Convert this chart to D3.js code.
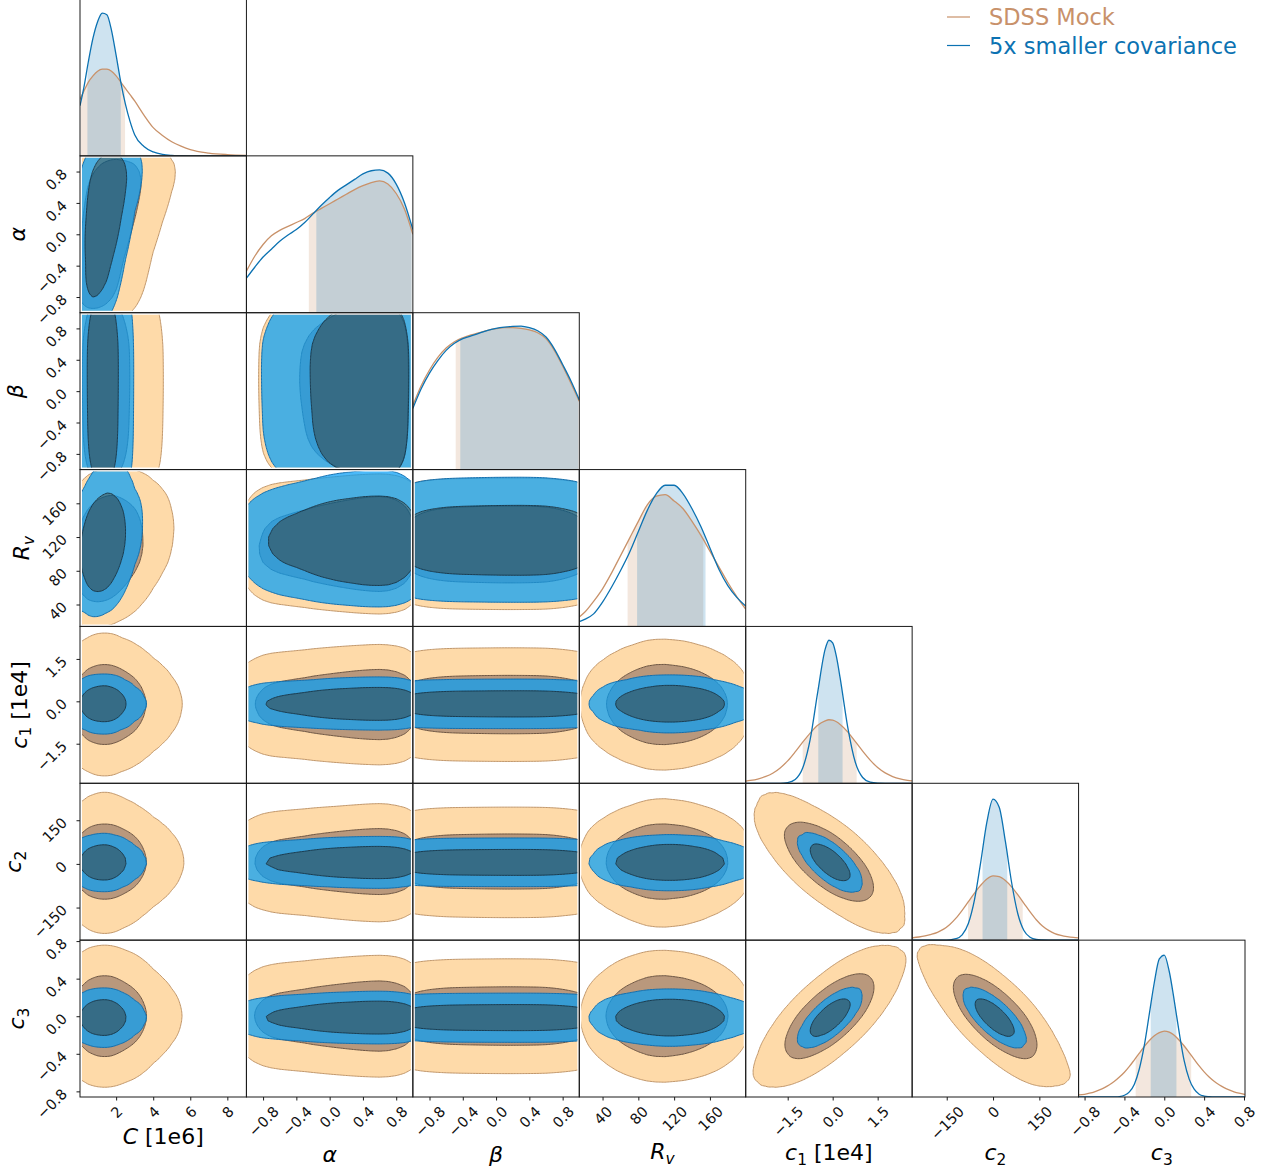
<!DOCTYPE html>
<html>
<head>
<meta charset="utf-8">
<script src="https://cdn.jsdelivr.net/npm/d3@7"></script>
<style>
  body { margin: 0; background: #fff; }
  svg { display: block; }
  text { font-family: "DejaVu Sans", sans-serif; }
</style>
</head>
<body>
<svg id="fig" width="1265" height="1176"></svg>
<script>
// ---------------------------------------------------------------------------
// Parameters of the triangle plot (order = rows / columns)
const paramKeys = ["C", "alpha", "beta", "Rv", "c1", "c2", "c3"];
const axisDomains = [[0.05, 9.03], [-1, 1], [-1, 1], [14, 200], [-2.9, 2.65], [-262, 277], [-0.86, 0.81]];
const tickValues = [
  [2, 4, 6, 8],
  [-0.8, -0.4, 0, 0.4, 0.8],
  [-0.8, -0.4, 0, 0.4, 0.8],
  [40, 80, 120, 160],
  [-1.5, 0, 1.5],
  [-150, 0, 150],
  [-0.8, -0.4, 0, 0.4, 0.8]
];
const tickLabels = [
  ["2", "4", "6", "8"],
  ["\u22120.8", "\u22120.4", "0.0", "0.4", "0.8"],
  ["\u22120.8", "\u22120.4", "0.0", "0.4", "0.8"],
  ["40", "80", "120", "160"],
  ["\u22121.5", "0.0", "1.5"],
  ["\u2212150", "0", "150"],
  ["\u22120.8", "\u22120.4", "0.0", "0.4", "0.8"]
];
// axis label pieces: [text, flags] (i = italic, s = subscript)
const axisLabelParts = [
  [["C", "i"], [" [1e6]", ""]],
  [["\u03b1", "i"]],
  [["\u03b2", "i"]],
  [["R", "i"], ["v", "is"]],
  [["c", "i"], ["1", "s"], [" [1e4]", ""]],
  [["c", "i"], ["2", "s"]],
  [["c", "i"], ["3", "s"]]
];
const seriesNames = ["SDSS Mock", "5x smaller covariance"];

// 1D marginal densities (relative height in the diagonal panels)
const gridC = [0.05, 0.25, 0.5, 0.75, 1, 1.25, 1.5, 1.75, 2, 2.25, 2.5, 2.75, 3, 3.5, 4, 4.5, 5, 5.5, 6, 7, 8, 9.03];
const sdssC = [0.36, 0.41, 0.47, 0.51, 0.54, 0.553, 0.553, 0.54, 0.51, 0.47, 0.43, 0.39, 0.35, 0.26, 0.18, 0.13, 0.09, 0.062, 0.04, 0.018, 0.008, 0.003];
const smallC = [0.32, 0.43, 0.6, 0.75, 0.855, 0.91, 0.9, 0.8, 0.64, 0.47, 0.33, 0.22, 0.135, 0.06, 0.025, 0.009, 0.003, 0.001, 0, 0, 0, 0];

const gridAlpha = [-1, -0.9, -0.8, -0.7, -0.6, -0.5, -0.4, -0.3, -0.2, -0.1, 0, 0.1, 0.2, 0.3, 0.4, 0.5, 0.6, 0.7, 0.8, 0.9, 1];
const sdssAlpha = [0.265, 0.36, 0.435, 0.49, 0.525, 0.55, 0.575, 0.6, 0.635, 0.665, 0.695, 0.725, 0.755, 0.785, 0.81, 0.83, 0.84, 0.82, 0.76, 0.66, 0.5];
const smallAlpha = [0.22, 0.29, 0.355, 0.405, 0.455, 0.495, 0.53, 0.575, 0.63, 0.685, 0.735, 0.78, 0.815, 0.85, 0.885, 0.905, 0.91, 0.89, 0.82, 0.7, 0.53];

const gridBeta = [-1, -0.9, -0.8, -0.7, -0.6, -0.5, -0.4, -0.3, -0.2, -0.1, 0, 0.1, 0.2, 0.3, 0.4, 0.5, 0.6, 0.7, 0.8, 0.9, 1];
const sdssBeta = [0.41, 0.535, 0.635, 0.715, 0.775, 0.815, 0.84, 0.858, 0.873, 0.888, 0.898, 0.905, 0.905, 0.9, 0.89, 0.872, 0.835, 0.76, 0.66, 0.55, 0.435];
const smallBeta = [0.39, 0.515, 0.615, 0.695, 0.76, 0.805, 0.835, 0.852, 0.87, 0.888, 0.9, 0.908, 0.913, 0.915, 0.905, 0.885, 0.845, 0.77, 0.67, 0.565, 0.445];

const gridRv = [14, 20, 30, 40, 50, 60, 70, 80, 90, 100, 110, 120, 130, 140, 150, 160, 170, 180, 190, 200];
const sdssRv = [0.06, 0.09, 0.16, 0.24, 0.34, 0.45, 0.56, 0.67, 0.775, 0.83, 0.84, 0.8, 0.75, 0.67, 0.58, 0.48, 0.38, 0.28, 0.19, 0.11];
const smallRv = [0.03, 0.045, 0.08, 0.155, 0.25, 0.355, 0.47, 0.605, 0.74, 0.845, 0.9, 0.9, 0.845, 0.75, 0.635, 0.5, 0.365, 0.26, 0.185, 0.13];

const gridC1 = [-2.9, -2.75, -2.5, -2.25, -2, -1.75, -1.5, -1.25, -1, -0.75, -0.5, -0.25, -0.125, 0, 0.125, 0.25, 0.5, 0.75, 1, 1.25, 1.5, 1.75, 2, 2.25, 2.5, 2.65];
const sdssC1 = [0.014, 0.018, 0.027, 0.042, 0.064, 0.098, 0.143, 0.2, 0.262, 0.32, 0.37, 0.398, 0.405, 0.402, 0.392, 0.375, 0.328, 0.267, 0.205, 0.148, 0.1, 0.066, 0.043, 0.028, 0.019, 0.015];
const smallC1 = [0, 0, 0, 0, 0, 0, 0.004, 0.024, 0.097, 0.28, 0.58, 0.855, 0.912, 0.895, 0.807, 0.67, 0.36, 0.137, 0.037, 0.007, 0.001, 0, 0, 0, 0, 0];

const gridC2 = [-262, -240, -220, -200, -180, -160, -140, -120, -100, -80, -60, -40, -20, 0, 20, 40, 60, 80, 100, 120, 140, 160, 180, 200, 220, 240, 260, 277];
const sdssC2 = [0.015, 0.02, 0.027, 0.037, 0.05, 0.07, 0.1, 0.14, 0.19, 0.245, 0.3, 0.35, 0.39, 0.41, 0.405, 0.38, 0.34, 0.29, 0.235, 0.18, 0.13, 0.09, 0.062, 0.042, 0.03, 0.022, 0.017, 0.015];
const smallC2 = [0, 0, 0, 0, 0, 0, 0.002, 0.009, 0.034, 0.106, 0.258, 0.496, 0.752, 0.899, 0.847, 0.629, 0.369, 0.17, 0.061, 0.018, 0.004, 0.001, 0, 0, 0, 0, 0, 0];

const gridC3 = [-0.86, -0.8, -0.75, -0.7, -0.65, -0.6, -0.55, -0.5, -0.45, -0.4, -0.35, -0.3, -0.25, -0.2, -0.15, -0.1, -0.05, 0, 0.05, 0.1, 0.15, 0.2, 0.25, 0.3, 0.35, 0.4, 0.45, 0.5, 0.55, 0.6, 0.65, 0.7, 0.75, 0.81];
const sdssC3 = [0.014, 0.017, 0.024, 0.033, 0.045, 0.06, 0.078, 0.1, 0.127, 0.158, 0.195, 0.237, 0.28, 0.322, 0.36, 0.39, 0.41, 0.42, 0.413, 0.393, 0.362, 0.325, 0.283, 0.24, 0.198, 0.16, 0.127, 0.1, 0.078, 0.06, 0.045, 0.033, 0.024, 0.016];
const smallC3 = [0, 0, 0, 0, 0, 0, 0, 0.001, 0.003, 0.011, 0.033, 0.082, 0.18, 0.33, 0.53, 0.73, 0.88, 0.905, 0.8, 0.615, 0.41, 0.23, 0.114, 0.05, 0.018, 0.006, 0.002, 0, 0, 0, 0, 0, 0, 0];

// 68% credible intervals shaded under each 1D curve
const sdssIntervals = [[0.1, 2.48], [-0.25, 0.985], [-0.485, 0.985], [68, 152.5], [-1.0, 0.8], [-81, 96], [-0.287, 0.27]];
const smallIntervals = [[0.45, 2.25], [-0.16, 0.985], [-0.43, 0.985], [78.6, 155.1], [-0.48, 0.33], [-34, 46], [-0.136, 0.122]];

// joint structure of the 2D posteriors: pair correlations and how strongly
// each 1D marginal shapes the joint density
const correlations = [["C", "alpha", 0.3], ["C", "Rv", 0.2], ["c1", "c2", -0.68], ["c1", "c3", 0.7], ["c2", "c3", -0.72]];
const sdssJointPower = [1.3, 1, 0.3, 1, 1, 1, 1];
const smallJointPower = [1, 1, 0.3, 1, 1, 1, 1];

// ---------------------------------------------------------------------------
const grids = [gridC, gridAlpha, gridBeta, gridRv, gridC1, gridC2, gridC3];
const densities = [
  [sdssC, sdssAlpha, sdssBeta, sdssRv, sdssC1, sdssC2, sdssC3],
  [smallC, smallAlpha, smallBeta, smallRv, smallC1, smallC2, smallC3]
];
const jointPowers = [sdssJointPower, smallJointPower];
const intervals = [sdssIntervals, smallIntervals];

const styles = [
  { line: "#c9926a", bandOpacity: 0.22, fill2: "#fedaa9", fill1: "#b9987c", fillOpacity: 1,
    stroke2: "#c0966a", stroke1: "#6e5540", text: "#c8916a" },
  { line: "#0c72b2", bandOpacity: 0.2, fill2: "rgb(4,158,247)", fill1: "rgb(3,91,138)", fillOpacity: 0.72,
    stroke2: "#136fae", stroke1: "#173c52", text: "#0c72b2" }
];

const svg = d3.select("#fig");
const defs = svg.append("defs");
const nP = paramKeys.length;
const plotLeft = 80, plotTop = -1, plotRight = 1245, plotBottom = 1097;
const cellW = (plotRight - plotLeft) / nP, cellH = (plotBottom - plotTop) / nP;

const xScales = paramKeys.map((k, p) => d3.scaleLinear().domain(axisDomains[p])
  .range([plotLeft + p * cellW, plotLeft + (p + 1) * cellW]));
const yScales = paramKeys.map((k, p) => d3.scaleLinear().domain(axisDomains[p])
  .range([plotTop + (p + 1) * cellH, plotTop + p * cellH]));

function interp(xs, ys, x) {
  const n = xs.length;
  if (x <= xs[0]) return ys[0];
  if (x >= xs[n - 1]) return ys[n - 1];
  const i = d3.bisectRight(xs, x) - 1;
  const t = (x - xs[i]) / (xs[i + 1] - xs[i]);
  return ys[i] + t * (ys[i + 1] - ys[i]);
}

// mean and standard deviation of each marginal
const moments = densities.map(set => set.map((dens, p) => {
  const [lo, hi] = axisDomains[p];
  let w = 0, m = 0, m2 = 0;
  for (let k = 0; k <= 600; k++) {
    const x = lo + (hi - lo) * k / 600;
    const d = interp(grids[p], dens, x);
    w += d; m += d * x; m2 += d * x * x;
  }
  m /= w;
  return { mean: m, sd: Math.sqrt(Math.max(m2 / w - m * m, 1e-12)) };
}));

function rhoFor(a, b) {
  const ka = paramKeys[a], kb = paramKeys[b];
  const hit = correlations.find(c => (c[0] === ka && c[1] === kb) || (c[0] === kb && c[1] === ka));
  return hit ? hit[2] : 0;
}

let clipCount = 0;
function clipRect(x0, y0, x1, y1) {
  const id = "clip" + (clipCount++);
  defs.append("clipPath").attr("id", id).append("rect")
    .attr("x", x0).attr("y", y0).attr("width", x1 - x0).attr("height", y1 - y0);
  return "url(#" + id + ")";
}

// ---------------------------------------------------------------------------
// 2D panels: filled 68% / 95% regions
const N = 110, M = N + 2;
function densityGrid(s, px, py) {
  const [xl, xh] = axisDomains[px], [yl, yh] = axisDomains[py];
  const rho = rhoFor(px, py);
  const mx = moments[s][px], my = moments[s][py];
  const kx = jointPowers[s][px], ky = jointPowers[s][py];
  const fx = [], fy = [], zx = [], zy = [];
  for (let i = 0; i < N; i++) {
    const xv = xl + i * (xh - xl) / (N - 1);
    const yv = yl + i * (yh - yl) / (N - 1);
    fx.push(Math.pow(interp(grids[px], densities[s][px], xv), kx));
    fy.push(Math.pow(interp(grids[py], densities[s][py], yv), ky));
    zx.push((xv - mx.mean) / mx.sd);
    zy.push((yv - my.mean) / my.sd);
  }
  const values = new Float64Array(M * M);
  for (let j = 0; j < N; j++) {
    for (let i = 0; i < N; i++) {
      let d = fx[i] * fy[j];
      if (rho !== 0) {
        const a = zx[i], b = zy[j];
        d *= Math.exp(-(rho * rho * (a * a + b * b) - 2 * rho * a * b) / (2 * (1 - rho * rho)));
      }
      values[(j + 1) * M + (i + 1)] = d;
    }
  }
  return values;
}

function massLevels(values) {
  const arr = Array.from(values).filter(v => v > 0).sort((a, b) => b - a);
  const total = d3.sum(arr);
  let cum = 0, t68 = null, t95 = null;
  for (const v of arr) {
    cum += v;
    if (t68 === null && cum >= 0.68 * total) t68 = v;
    if (cum >= 0.95 * total) { t95 = v; break; }
  }
  return [t95, t68];
}

const contourLayer = svg.append("g");
for (let r = 1; r < nP; r++) {
  for (let c = 0; c < r; c++) {
    const xs = xScales[c], ys = yScales[r];
    const [xl, xh] = axisDomains[c], [yl, yh] = axisDomains[r];
    const proj = d3.geoTransform({
      point(cx, cy) {
        this.stream.point(xs(xl + (cx - 1.5) * (xh - xl) / (N - 1)), ys(yl + (cy - 1.5) * (yh - yl) / (N - 1)));
      }
    });
    const path = d3.geoPath(proj);
    const inset = 2;
    const clip = clipRect(xs.range()[0] + inset, ys.range()[1] + inset, xs.range()[1] - inset, ys.range()[0] - inset);
    const g = contourLayer.append("g").attr("clip-path", clip);
    for (let s = 0; s < 2; s++) {
      const st = styles[s];
      const values = densityGrid(s, c, r);
      const lv = massLevels(values);
      const cont = d3.contours().size([M, M]).thresholds(lv)(values);
      const d95 = path(cont[0]) || "", d68 = path(cont[1]) || "";
      g.append("path").attr("d", d95 + d68).attr("fill-rule", "evenodd")
        .attr("fill", st.fill2).attr("fill-opacity", st.fillOpacity);
      g.append("path").attr("d", d68).attr("fill", st.fill1).attr("fill-opacity", st.fillOpacity);
      g.append("path").attr("d", d95).attr("fill", "none").attr("stroke", st.stroke2).attr("stroke-width", 1);
      g.append("path").attr("d", d68).attr("fill", "none").attr("stroke", st.stroke1).attr("stroke-width", 1);
    }
  }
}

// ---------------------------------------------------------------------------
// Diagonal panels: 1D marginals with shaded 68% intervals
const diagLayer = svg.append("g");
for (let p = 0; p < nP; p++) {
  const xs = xScales[p];
  const y0 = plotTop + (p + 1) * cellH, y1 = plotTop + p * cellH;
  const hs = d3.scaleLinear().domain([0, 1]).range([y0, y1]);
  const pts = s => grids[p].map((x, i) => [x, densities[s][p][i]]);
  const area = d3.area().x(d => xs(d[0])).y0(hs(0)).y1(d => hs(d[1])).curve(d3.curveMonotoneX);
  const line = d3.line().x(d => xs(d[0])).y(d => hs(d[1])).curve(d3.curveMonotoneX);
  for (let s = 0; s < 2; s++) {
    const [a, b] = intervals[s][p];
    const clip = clipRect(xs(a), y1, xs(b), y0);
    diagLayer.append("path").attr("d", area(pts(s))).attr("clip-path", clip)
      .attr("fill", styles[s].line).attr("fill-opacity", styles[s].bandOpacity);
  }
  const clipAll = clipRect(xs.range()[0], y1, xs.range()[1], y0);
  for (let s = 0; s < 2; s++) {
    diagLayer.append("path").attr("d", line(pts(s))).attr("clip-path", clipAll)
      .attr("fill", "none").attr("stroke", styles[s].line).attr("stroke-width", 1.3);
  }
}

// ---------------------------------------------------------------------------
// Panel frames
const frameLayer = svg.append("g");
for (let r = 0; r < nP; r++) {
  for (let c = 0; c <= r; c++) {
    frameLayer.append("rect")
      .attr("x", plotLeft + c * cellW).attr("y", plotTop + r * cellH)
      .attr("width", cellW).attr("height", cellH)
      .attr("fill", "none").attr("stroke", "#1a1a1a").attr("stroke-width", 1);
  }
}

// ---------------------------------------------------------------------------
// Axes
const tickFont = 14.5, capH = 0.73 * tickFont;
const axisLayer = svg.append("g");
for (let r = 1; r < nP; r++) {
  const ax = axisLayer.append("g").attr("transform", `translate(${plotLeft},0)`)
    .call(d3.axisLeft(yScales[r]).tickValues(tickValues[r])
      .tickFormat((d, i) => tickLabels[r][i]).tickSize(3.5).tickSizeOuter(0));
  ax.select(".domain").remove();
  ax.selectAll(".tick line").attr("stroke", "#1a1a1a");
  ax.selectAll(".tick text").each(function () {
    const t = d3.select(this).attr("x", null).attr("dy", null).attr("y", null)
      .attr("font-size", tickFont).attr("font-family", "DejaVu Sans").attr("fill", "#111")
      .attr("text-anchor", "end");
    t.attr("transform", `translate(-12,3) rotate(-45)`);
  });
}
for (let c = 0; c < nP; c++) {
  const ax = axisLayer.append("g").attr("transform", `translate(0,${plotBottom})`)
    .call(d3.axisBottom(xScales[c]).tickValues(tickValues[c])
      .tickFormat((d, i) => tickLabels[c][i]).tickSize(3.5).tickSizeOuter(0));
  ax.select(".domain").remove();
  ax.selectAll(".tick line").attr("stroke", "#1a1a1a");
  ax.selectAll(".tick text").each(function () {
    const t = d3.select(this).attr("x", null).attr("dy", null).attr("y", null)
      .attr("font-size", tickFont).attr("font-family", "DejaVu Sans").attr("fill", "#111")
      .attr("text-anchor", "end");
    const w = this.getComputedTextLength();
    const ox = 0.3535 * (w + capH), oy = 8 + 0.707 * capH;
    t.attr("transform", `translate(${ox},${oy}) rotate(-45)`);
  });
}

// axis labels with italic symbols and subscripts
const labelFont = 22;
function richText(sel, parts) {
  let shifted = false;
  parts.forEach(([txt, flags]) => {
    const ts = sel.append("tspan").text(txt);
    if (flags.includes("i")) ts.attr("font-style", "italic");
    if (flags.includes("s")) {
      ts.attr("font-size", labelFont * 0.7);
      if (!shifted) { ts.attr("dy", labelFont * 0.22); shifted = true; }
    } else if (shifted) {
      ts.attr("dy", -labelFont * 0.22); shifted = false;
    }
  });
}
const xLabelBase = [1144, 1162, 1162, 1159, 1160, 1160, 1160];
const yLabelBase = [0, 25, 23, 29, 26.5, 21, 24];
for (let c = 0; c < nP; c++) {
  const t = svg.append("text").attr("x", plotLeft + (c + 0.5) * cellW).attr("y", xLabelBase[c])
    .attr("text-anchor", "middle").attr("font-size", labelFont).attr("fill", "#000");
  richText(t, axisLabelParts[c]);
}
for (let r = 1; r < nP; r++) {
  const cy = plotTop + (r + 0.5) * cellH;
  const t = svg.append("text").attr("transform", `translate(${yLabelBase[r]},${cy}) rotate(-90)`)
    .attr("text-anchor", "middle").attr("font-size", labelFont).attr("fill", "#000");
  richText(t, axisLabelParts[r]);
}

// ---------------------------------------------------------------------------
// Legend
const legend = svg.append("g");
seriesNames.forEach((name, s) => {
  const ly = 17 + s * 28.5;
  legend.append("line").attr("x1", 947).attr("x2", 970).attr("y1", ly).attr("y2", ly)
    .attr("stroke", styles[s].line).attr("stroke-width", 1.2);
  legend.append("text").attr("x", 989).attr("y", ly + 8).attr("font-size", 22.5)
    .attr("fill", styles[s].text).text(name);
});
</script>
</body>
</html>
